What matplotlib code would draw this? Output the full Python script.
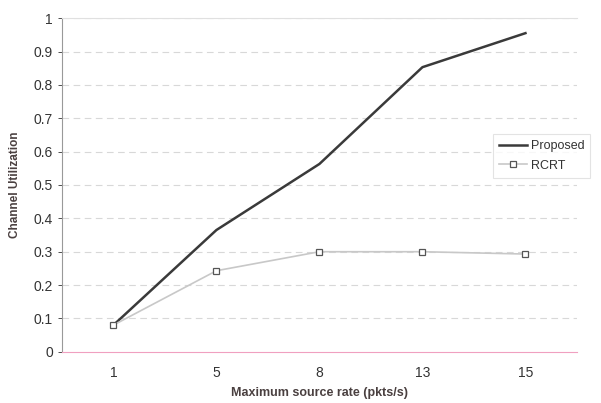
import matplotlib
matplotlib.use("Agg")
import matplotlib.pyplot as plt

categories = ["1", "5", "8", "13", "15"]
proposed = [0.08, 0.365, 0.563, 0.853, 0.955]
rcrt = [0.08, 0.243, 0.30, 0.30, 0.293]
yticks = [0, 0.1, 0.2, 0.3, 0.4, 0.5, 0.6, 0.7, 0.8, 0.9, 1]
ytick_labels = ["0", "0.1", "0.2", "0.3", "0.4", "0.5", "0.6", "0.7", "0.8", "0.9", "1"]

plt.rcParams['font.family'] = ['Liberation Sans', 'DejaVu Sans']

fig = plt.figure(figsize=(6.01, 4.03), dpi=100)
ax = fig.add_axes([0.103, 0.127, 0.857, 0.828])
x = list(range(len(categories)))

for t in yticks[1:]:
    ax.axhline(t, color="#d8d8d8", lw=0.8, ls=(0, (6, 4)), zorder=0)

ax.plot(x, proposed, color="#3a3a3a", lw=1.8, label="Proposed", zorder=3)
ax.plot(x, rcrt, color="#c8c8c8", lw=1.2, marker="s", markersize=5,
        markerfacecolor="white", markeredgecolor="#555555", markeredgewidth=0.9,
        label="RCRT", zorder=3)

ax.set_xlim(-0.5, len(categories) - 0.5)
ax.set_ylim(0, 1)
ax.set_xticks(x)
ax.set_xticklabels(categories)
ax.set_yticks(yticks)
ax.set_yticklabels(ytick_labels)
ax.tick_params(axis="both", colors="#333333", labelsize=10, length=3, width=0.6)
ax.tick_params(axis="x", length=0, pad=10)
for lbl in ax.get_xticklabels() + ax.get_yticklabels():
    lbl.set_color("#333333")

ax.spines["left"].set_color("#999999")
ax.spines["bottom"].set_color("#f0a0c0")
ax.spines["top"].set_color("#e0e0e0")
ax.spines["right"].set_visible(False)
for s in ax.spines.values():
    s.set_linewidth(0.8)

ax.set_xlabel("Maximum source rate (pkts/s)", fontsize=9, fontweight="bold", color="#4a4040", labelpad=5)
ax.set_ylabel("Channel Utilization", fontsize=8.5, fontweight="bold", color="#4a4040", labelpad=9)

leg = ax.legend(loc="upper left", bbox_to_anchor=(0.837, 0.653), borderaxespad=0, fontsize=9, frameon=True,
                fancybox=False, edgecolor="#dddddd", handlelength=2.2, borderpad=0.5,
                labelspacing=0.6, handletextpad=0.3)
leg.get_frame().set_linewidth(0.8)
for t in leg.get_texts():
    t.set_color("#333333")

fig.savefig("out.png", dpi=100)
